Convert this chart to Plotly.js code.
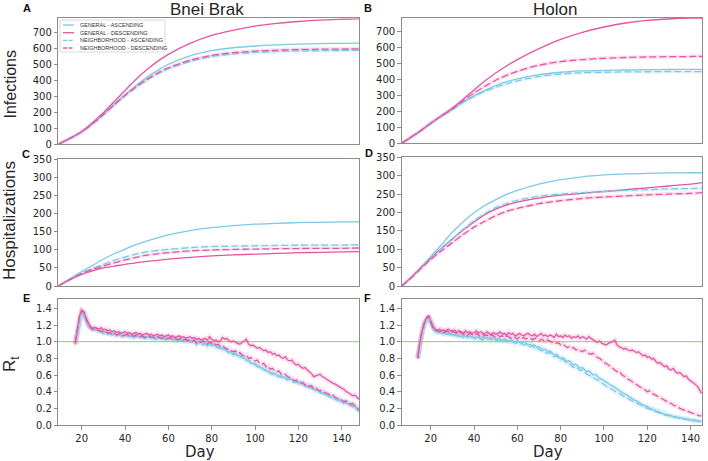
<!DOCTYPE html>
<html>
<head>
<meta charset="utf-8">
<script src="https://cdn.plot.ly/plotly-3.0.1.min.js"></script>
<style>html,body{margin:0;padding:0;background:#fff;}#chart{width:708px;height:461px;}</style>
</head>
<body>
<div id="chart"></div>
<script>
// ---------- DATA ----------
const seriesNames = ['GENERAL - ASCENDING', 'GENERAL - DESCENDING', 'NEIGHBORHOOD - ASCENDING', 'NEIGHBORHOOD - DESCENDING'];
const columnTitles = ['Bnei Brak', 'Holon'];
const rowTitles = ['Infections', 'Hospitalizations', 'R<sub>t</sub>'];
const panelLetters = ['A', 'B', 'C', 'D', 'E', 'F'];
const xTitle = 'Day';
const rtThreshold = 1.0;

// Bnei Brak infections (A)
const daysBneiBrak = [9.2, 15, 20, 25, 30, 35, 40, 45, 50, 55, 60, 70, 80, 90, 100, 110, 120, 130, 140, 148.1];
const infBB_GA = [0, 40, 78, 130, 188, 250, 308, 365, 418, 462, 500, 553, 585, 603, 614, 621, 626, 629, 631, 632];
const infBB_GD = [0, 40, 80, 135, 197, 267, 337, 405, 465, 518, 562, 630, 680, 712, 738, 755, 767, 776, 781, 784];
const infBB_NA = [0, 40, 78, 128, 185, 245, 305, 356, 402, 440, 472, 518, 548, 565, 574, 580, 583, 585, 586, 587];
const infBB_ND = [0, 40, 78, 129, 186, 247, 306, 358, 405, 445, 478, 525, 555, 572, 582, 588, 592, 594, 595, 596];

// Holon infections (B)
const daysHolon = [6.6, 10, 15, 20, 25, 30, 35, 40, 45, 50, 55, 60, 70, 80, 90, 100, 110, 120, 130, 140, 145.4];
const infHO_GA = [0, 30, 75, 125, 170, 212, 258, 296, 330, 360, 384, 402, 428, 443, 451, 455, 457, 459, 460, 461, 461];
const infHO_GD = [0, 30, 75, 125, 172, 220, 275, 333, 388, 438, 482, 522, 590, 648, 692, 725, 750, 766, 775, 780, 781];
const infHO_NA = [0, 30, 75, 125, 170, 210, 254, 292, 322, 349, 371, 389, 417, 432, 440, 443, 445, 446, 447, 447, 447];
const infHO_ND = [0, 30, 75, 125, 171, 215, 267, 314, 355, 393, 424, 449, 487, 509, 522, 530, 535, 538, 540, 541, 542];

// Bnei Brak hospitalizations (C)
const hospBB_GA = [0, 22, 40, 57, 74, 89, 102, 114, 124, 133, 141, 153, 161, 167, 171, 173, 175, 176, 177, 177];
const hospBB_GD = [0, 19, 32, 42, 50, 55, 60, 64, 68, 71, 74, 79, 83, 86, 88, 90, 92, 93, 94, 95];
const hospBB_NA = [0, 20, 36, 48, 60, 71, 80, 88, 94, 98, 101, 106, 109, 110, 111, 112, 112.5, 113, 113, 114];
const hospBB_ND = [0, 19, 34, 46, 55, 64, 72, 79, 85, 89, 92, 97, 99.5, 101, 102, 103, 103.5, 104, 104, 105];

// Holon hospitalizations (D)
const hospHO_GA = [0, 18, 48, 80, 113, 146, 175, 199, 219, 235, 249, 260, 277, 289, 297, 302, 305, 306.5, 307.5, 308, 308];
const hospHO_GD = [0, 18, 47, 76, 103, 128, 152, 174, 194, 209, 220, 228, 239, 247, 252, 257, 262, 267, 272, 277, 281];
const hospHO_NA = [0, 18, 47, 76, 103, 128, 154, 177, 197, 213, 224, 233, 244, 250, 254, 257, 260, 262, 264, 265, 266];
const hospHO_ND = [0, 17, 45, 72, 96, 118, 140, 160, 176, 191, 203, 211, 224, 232, 238, 242, 245, 248, 250, 252, 254];

// Rt, Bnei Brak (E): daily from day 17
const rtStartBB = 17;
const rtBB_GA = [0.97,1.12,1.28,1.35,1.33,1.26,1.2,1.17,1.15,1.14,
 1.15,1.13,1.12,1.11,1.12,1.1,1.1,1.09,1.1,1.08,
 1.09,1.07,1.08,1.08,1.07,1.08,1.06,1.07,1.07,1.06,
 1.07,1.05,1.06,1.06,1.05,1.06,1.04,1.05,1.05,1.04,
 1.05,1.03,1.05,1.04,1.03,1.04,1.02,1.04,1.03,1.02,
 1.03,1.01,1.03,1.02,1.01,1.02,0.99,1.01,1.0,0.98,
 0.99,0.96,0.98,0.97,0.96,0.95,0.93,0.94,0.91,0.92,
 0.89,0.88,0.87,0.85,0.86,0.83,0.84,0.81,0.8,0.78,
 0.77,0.75,0.74,0.72,0.71,0.7,0.68,0.67,0.66,0.64,
 0.63,0.62,0.61,0.6,0.59,0.57,0.58,0.56,0.55,0.56,
 0.54,0.53,0.52,0.51,0.52,0.49,0.48,0.47,0.45,0.46,
 0.43,0.42,0.41,0.4,0.38,0.37,0.36,0.35,0.34,0.33,
 0.31,0.3,0.29,0.28,0.26,0.27,0.25,0.24,0.23,0.22,
 0.2,0.17];
const rtBB_GD = [0.98,1.15,1.31,1.38,1.36,1.28,1.22,1.18,1.16,1.17,
 1.16,1.15,1.17,1.14,1.15,1.13,1.14,1.12,1.13,1.11,
 1.12,1.1,1.11,1.12,1.1,1.11,1.09,1.1,1.11,1.09,
 1.1,1.08,1.09,1.1,1.08,1.09,1.07,1.08,1.09,1.07,
 1.08,1.06,1.07,1.08,1.06,1.07,1.05,1.06,1.07,1.05,
 1.06,1.04,1.05,1.06,1.04,1.05,1.03,1.04,1.02,1.03,
 1.04,1.02,1.06,1.03,1.01,1.02,1.0,1.01,1.05,1.03,
 1.04,1.01,1.0,1.01,0.99,0.98,0.97,0.99,1.01,1.03,
 0.97,0.95,0.96,0.94,0.92,0.93,0.91,0.89,0.9,0.87,
 0.88,0.85,0.86,0.83,0.84,0.81,0.8,0.82,0.78,0.77,
 0.78,0.74,0.72,0.73,0.7,0.68,0.69,0.66,0.64,0.62,
 0.58,0.59,0.6,0.61,0.58,0.57,0.55,0.53,0.52,0.5,
 0.49,0.47,0.46,0.44,0.43,0.4,0.39,0.37,0.35,0.36,
 0.33,0.31];
const rtBB_NA = [0.96,1.1,1.26,1.34,1.32,1.25,1.19,1.16,1.14,1.15,
 1.13,1.12,1.12,1.1,1.11,1.09,1.1,1.08,1.09,1.07,
 1.08,1.08,1.06,1.07,1.08,1.06,1.07,1.05,1.06,1.07,
 1.05,1.06,1.04,1.05,1.06,1.04,1.05,1.03,1.04,1.05,
 1.03,1.04,1.02,1.03,1.04,1.02,1.03,1.01,1.02,1.03,
 1.0,1.02,1.01,0.99,1.01,1.0,0.97,0.99,0.98,0.96,
 0.98,0.94,0.97,0.95,0.97,0.94,0.92,0.93,0.9,0.91,
 0.88,0.86,0.87,0.84,0.85,0.82,0.81,0.83,0.79,0.77,
 0.78,0.74,0.73,0.74,0.7,0.69,0.7,0.66,0.65,0.66,
 0.62,0.61,0.62,0.59,0.58,0.59,0.56,0.57,0.54,0.55,
 0.53,0.51,0.52,0.5,0.49,0.5,0.47,0.46,0.47,0.44,
 0.43,0.41,0.42,0.39,0.38,0.39,0.36,0.35,0.33,0.34,
 0.31,0.3,0.31,0.28,0.27,0.28,0.25,0.24,0.22,0.23,
 0.19,0.16];
const rtBB_ND = [0.98,1.14,1.3,1.37,1.35,1.27,1.21,1.17,1.15,1.16,
 1.14,1.13,1.13,1.11,1.12,1.1,1.11,1.09,1.1,1.08,
 1.09,1.1,1.07,1.08,1.09,1.07,1.08,1.06,1.08,1.07,
 1.06,1.07,1.05,1.06,1.07,1.05,1.06,1.04,1.06,1.05,
 1.04,1.05,1.03,1.04,1.05,1.03,1.04,1.02,1.03,1.04,
 1.02,1.03,1.01,1.02,1.0,1.02,0.98,1.0,0.99,1.01,
 0.99,0.97,1.0,0.98,0.99,0.96,0.97,0.94,0.95,0.93,
 0.91,0.92,0.89,0.88,0.89,0.86,0.87,0.84,0.83,0.84,
 0.8,0.81,0.78,0.77,0.78,0.74,0.73,0.74,0.7,0.71,
 0.67,0.68,0.65,0.64,0.65,0.61,0.6,0.61,0.58,0.57,
 0.56,0.53,0.54,0.51,0.5,0.51,0.48,0.49,0.46,0.47,
 0.44,0.45,0.42,0.41,0.42,0.39,0.38,0.37,0.35,0.36,
 0.33,0.32,0.31,0.3,0.28,0.29,0.26,0.25,0.26,0.23,
 0.21,0.18];

// Rt, Holon (F): daily from day 14
const rtStartHO = 14;
const rtHO_GA = [0.8,0.99,1.11,1.21,1.27,1.3,1.22,1.16,1.13,1.12,
 1.11,1.12,1.1,1.11,1.09,1.1,1.08,1.09,1.07,1.08,
 1.06,1.08,1.07,1.05,1.07,1.06,1.04,1.06,1.05,1.03,
 1.06,1.04,1.05,1.03,1.05,1.04,1.02,1.04,1.03,1.01,
 1.03,1.02,1.0,1.02,1.01,0.99,1.01,0.99,0.98,1.0,
 0.98,0.96,0.97,0.95,0.96,0.93,0.94,0.92,0.9,0.91,
 0.88,0.89,0.86,0.84,0.85,0.82,0.8,0.81,0.78,0.76,
 0.77,0.74,0.72,0.73,0.7,0.68,0.69,0.66,0.64,0.65,
 0.62,0.6,0.61,0.58,0.56,0.55,0.53,0.52,0.5,0.48,
 0.47,0.45,0.43,0.42,0.4,0.38,0.37,0.35,0.33,0.32,
 0.3,0.29,0.27,0.26,0.24,0.23,0.22,0.2,0.19,0.18,
 0.17,0.16,0.15,0.14,0.13,0.12,0.12,0.11,0.1,0.1,
 0.09,0.09,0.08,0.08,0.07,0.07,0.06,0.06,0.06,0.05,
 0.05,0.04];
const rtHO_GD = [0.8,1.0,1.12,1.22,1.28,1.31,1.25,1.18,1.15,1.14,
 1.15,1.13,1.14,1.12,1.15,1.13,1.12,1.14,1.11,1.13,
 1.12,1.1,1.13,1.11,1.12,1.1,1.11,1.13,1.1,1.12,
 1.1,1.09,1.12,1.1,1.08,1.11,1.09,1.1,1.12,1.09,
 1.1,1.08,1.11,1.09,1.1,1.07,1.09,1.1,1.08,1.07,
 1.09,1.1,1.08,1.07,1.09,1.06,1.08,1.1,1.07,1.08,
 1.06,1.08,1.07,1.05,1.09,1.06,1.07,1.05,1.08,1.06,
 1.07,1.04,1.06,1.05,1.07,1.04,1.06,1.05,1.03,1.06,
 1.04,1.02,1.01,0.99,1.01,0.98,0.97,0.96,0.98,0.99,
 1.0,1.02,0.96,0.94,0.93,0.91,0.92,0.9,0.89,0.9,
 0.88,0.87,0.88,0.85,0.83,0.84,0.81,0.82,0.79,0.8,
 0.76,0.74,0.75,0.72,0.7,0.71,0.67,0.66,0.68,0.64,
 0.62,0.63,0.6,0.58,0.59,0.55,0.53,0.51,0.5,0.47,
 0.43,0.38];
const rtHO_NA = [0.8,0.99,1.11,1.2,1.27,1.29,1.22,1.15,1.12,1.11,
 1.12,1.1,1.11,1.09,1.1,1.08,1.09,1.07,1.08,1.06,
 1.07,1.05,1.07,1.06,1.04,1.06,1.05,1.03,1.05,1.04,
 1.02,1.05,1.03,1.04,1.02,1.04,1.03,1.01,1.02,1.0,
 1.02,1.0,1.01,0.99,1.0,0.98,0.99,0.97,0.98,0.96,
 0.97,0.95,0.94,0.95,0.92,0.93,0.91,0.89,0.9,0.87,
 0.86,0.87,0.84,0.82,0.83,0.8,0.78,0.79,0.76,0.74,
 0.73,0.71,0.69,0.7,0.67,0.65,0.66,0.63,0.61,0.6,
 0.58,0.57,0.55,0.54,0.52,0.5,0.49,0.47,0.45,0.44,
 0.42,0.41,0.39,0.38,0.36,0.35,0.33,0.32,0.3,0.29,
 0.28,0.26,0.25,0.24,0.23,0.21,0.2,0.19,0.18,0.17,
 0.16,0.15,0.14,0.13,0.12,0.12,0.11,0.1,0.1,0.09,
 0.09,0.08,0.08,0.07,0.07,0.06,0.06,0.05,0.05,0.05,
 0.04,0.04];
const rtHO_ND = [0.8,1.0,1.12,1.22,1.28,1.31,1.24,1.17,1.14,1.13,
 1.12,1.14,1.11,1.13,1.12,1.1,1.13,1.11,1.1,1.12,
 1.1,1.09,1.11,1.08,1.1,1.09,1.07,1.1,1.08,1.06,
 1.09,1.07,1.08,1.06,1.09,1.07,1.05,1.08,1.06,1.07,
 1.05,1.07,1.06,1.04,1.06,1.05,1.03,1.06,1.04,1.05,
 1.03,1.05,1.04,1.02,1.04,1.03,1.01,1.03,1.02,1.0,
 1.02,1.01,0.99,1.0,0.98,0.99,0.96,0.97,0.95,0.93,
 0.94,0.92,0.93,0.9,0.91,0.89,0.88,0.9,0.87,0.86,
 0.85,0.86,0.83,0.81,0.8,0.77,0.75,0.74,0.72,0.7,
 0.68,0.66,0.64,0.65,0.61,0.59,0.58,0.55,0.54,0.52,
 0.5,0.48,0.47,0.45,0.44,0.42,0.4,0.41,0.38,0.37,
 0.35,0.34,0.33,0.31,0.3,0.28,0.27,0.26,0.24,0.23,
 0.22,0.2,0.19,0.18,0.17,0.16,0.15,0.14,0.13,0.12,
 0.11,0.11];

// ---------- STYLE ----------
const BLUE = '#7cc9e8', PINK = '#e6559f', GREEN = '#90e090';
const FRAME = '#8c8c8c', TXT = '#262626';
const seriesStyle = [
  {color: BLUE, dash: 'solid'},
  {color: PINK, dash: 'solid'},
  {color: BLUE, dash: '7px,3px'},
  {color: PINK, dash: '7px,3px'}
];
function rgba(hex, a) {
  const n = parseInt(hex.slice(1), 16);
  return `rgba(${(n >> 16) & 255},${(n >> 8) & 255},${n & 255},${a})`;
}
function dayIndex(start, len) { return Array.from({length: len}, (_, i) => start + i); }

const panels = [
  {x: daysBneiBrak, ys: [infBB_GA, infBB_GD, infBB_NA, infBB_ND], smooth: true, band: [false, false, true, true], bw: 4},
  {x: daysHolon, ys: [infHO_GA, infHO_GD, infHO_NA, infHO_ND], smooth: true, band: [false, false, true, true], bw: 4},
  {x: daysBneiBrak, ys: [hospBB_GA, hospBB_GD, hospBB_NA, hospBB_ND], smooth: true, band: [false, false, true, true], bw: 3},
  {x: daysHolon, ys: [hospHO_GA, hospHO_GD, hospHO_NA, hospHO_ND], smooth: true, band: [false, false, true, true], bw: 4},
  {x: dayIndex(rtStartBB, rtBB_GA.length), ys: [rtBB_GA, rtBB_GD, rtBB_NA, rtBB_ND], smooth: false, band: [true, true, true, true], bw: 5},
  {x: dayIndex(rtStartHO, rtHO_GA.length), ys: [rtHO_GA, rtHO_GD, rtHO_NA, rtHO_ND], smooth: false, band: [true, true, true, true], bw: 5}
];

const traces = [];
panels.forEach((p, k) => {
  const xa = k === 0 ? 'x' : 'x' + (k + 1);
  const ya = k === 0 ? 'y' : 'y' + (k + 1);
  p.ys.forEach((y, s) => {
    if (p.band[s]) {
      traces.push({x: p.x, y: y, xaxis: xa, yaxis: ya, mode: 'lines', hoverinfo: 'skip', showlegend: false,
        line: {color: rgba(seriesStyle[s].color, 0.16), width: p.bw, shape: p.smooth ? 'spline' : 'linear', smoothing: 0.8}});
    }
  });
  p.ys.forEach((y, s) => {
    traces.push({x: p.x, y: y, xaxis: xa, yaxis: ya, mode: 'lines', name: seriesNames[s], hoverinfo: 'skip', showlegend: false,
      line: {color: seriesStyle[s].color, width: 1.3, dash: seriesStyle[s].dash, shape: p.smooth ? 'spline' : 'linear', smoothing: 0.8}});
  });
});

// ---------- LAYOUT ----------
const W = 708, H = 461;
const px = v => v / W;
const py = v => 1 - v / H;
const colDom = [[px(58.3), px(359.3)], [px(401.7), px(702.3)]];
const colRange = [[9.2, 148.1], [6.6, 145.4]];
const rowDom = [
  [[py(144.3), py(18.3)], [py(143.3), py(17.7)]],
  [[py(286), py(159.3)], [py(286), py(157.3)]],
  [[py(425), py(299.2)], [py(425), py(299.2)]]
];
const yRanges = [[[0, 787], [0, 783]], [[0, 350], [0, 350]], [[0, 1.51], [0, 1.51]]];
const yDticks = [100, 50, 0.2];

const tickfont = {family: 'DejaVu Sans', size: 10, color: TXT};
const layout = {
  width: W, height: H,
  margin: {l: 0, r: 0, t: 0, b: 0, pad: 0},
  paper_bgcolor: '#ffffff', plot_bgcolor: '#ffffff',
  showlegend: false,
  font: {family: 'DejaVu Sans', size: 10, color: TXT},
  annotations: [], shapes: []
};
for (let r = 0; r < 3; r++) {
  for (let c = 0; c < 2; c++) {
    const k = r * 2 + c + 1;
    const xk = k === 1 ? 'xaxis' : 'xaxis' + k;
    const yk = k === 1 ? 'yaxis' : 'yaxis' + k;
    const bottom = r === 2;
    layout[xk] = {
      domain: colDom[c], range: colRange[c], anchor: k === 1 ? 'y' : 'y' + k,
      showgrid: false, zeroline: false, showline: true, mirror: true, linecolor: FRAME, linewidth: 1,
      ticks: bottom ? 'outside' : '', ticklen: 3.5, tickwidth: 1, tickcolor: FRAME,
      showticklabels: bottom, tickmode: 'linear', tick0: 0, dtick: 20, tickfont: tickfont
    };
    layout[yk] = {
      domain: rowDom[r][c], range: yRanges[r][c], anchor: k === 1 ? 'x' : 'x' + k,
      showgrid: false, zeroline: false, showline: true, mirror: true, linecolor: FRAME, linewidth: 1,
      ticks: 'outside', ticklen: 3.5, tickwidth: 1, tickcolor: FRAME,
      tickmode: 'linear', tick0: 0, dtick: yDticks[r], tickformat: r === 2 ? '.1f' : 'd', tickfont: tickfont
    };
  }
}

// threshold lines in Rt panels
['x5', 'x6'].forEach((xa, i) => {
  layout.shapes.push({type: 'line', layer: 'below', xref: xa + ' domain', x0: 0, x1: 1,
    yref: i === 0 ? 'y5' : 'y6', y0: rtThreshold, y1: rtThreshold, line: {color: GREEN, width: 1.2}});
});

// column titles
const titleFont = {family: 'Liberation Sans, Arial, sans-serif', size: 17, color: TXT};
layout.annotations.push({xref: 'paper', yref: 'paper', x: px(207), y: py(10), text: columnTitles[0], showarrow: false, xanchor: 'center', yanchor: 'middle', font: titleFont});
layout.annotations.push({xref: 'paper', yref: 'paper', x: px(555), y: py(10), text: columnTitles[1], showarrow: false, xanchor: 'center', yanchor: 'middle', font: titleFont});
// row titles
const rowTitlePos = [[10, 84.5, 16], [10, 221, 17], [11, 364, 17]];
rowTitles.forEach((t, i) => {
  layout.annotations.push({xref: 'paper', yref: 'paper', x: px(rowTitlePos[i][0]), y: py(rowTitlePos[i][1]), text: t, textangle: -90,
    showarrow: false, xanchor: 'center', yanchor: 'middle', font: {family: 'Liberation Sans, Arial, sans-serif', size: rowTitlePos[i][2], color: TXT}});
});
// x titles
[200, 548].forEach(xc => {
  layout.annotations.push({xref: 'paper', yref: 'paper', x: px(xc), y: py(451.5), text: xTitle, showarrow: false,
    xanchor: 'center', yanchor: 'middle', font: {family: 'DejaVu Sans', size: 15, color: TXT}});
});
// panel letters
const letterPos = [[27, 8], [368, 8], [26, 154], [369, 152.5], [26, 298], [367.5, 297.5]];
panelLetters.forEach((l, i) => {
  layout.annotations.push({xref: 'paper', yref: 'paper', x: px(letterPos[i][0]), y: py(letterPos[i][1]), text: '<b>' + l + '</b>', showarrow: false,
    xanchor: 'center', yanchor: 'middle', font: {family: 'Liberation Sans, Arial, sans-serif', size: 11, color: '#111'}});
});

// manual legend in panel A
layout.shapes.push({type: 'rect', xref: 'paper', yref: 'paper', x0: px(60), x1: px(165), y0: py(52), y1: py(20),
  line: {color: '#d0d0d0', width: 0.8}, fillcolor: 'rgba(255,255,255,0.85)', layer: 'above'});
const legRows = [25, 32.7, 40.3, 48];
seriesNames.forEach((n, s) => {
  layout.shapes.push({type: 'line', xref: 'paper', yref: 'paper', x0: px(63), x1: px(74), y0: py(legRows[s]), y1: py(legRows[s]),
    line: {color: seriesStyle[s].color, width: 1.3, dash: s >= 2 ? '4px,1.5px' : 'solid'}, layer: 'above'});
  layout.annotations.push({xref: 'paper', yref: 'paper', x: px(77.5), y: py(legRows[s]), text: n, showarrow: false,
    xanchor: 'left', yanchor: 'middle', font: {family: 'Liberation Sans, Arial, sans-serif', size: 5.5, color: '#333'}});
});

Plotly.newPlot('chart', traces, layout, {staticPlot: true, displayModeBar: false});
</script>
</body>
</html>
